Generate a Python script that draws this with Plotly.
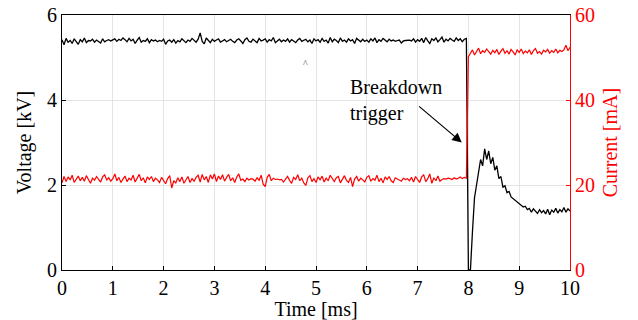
import numpy as np
import plotly.graph_objects as go

time_ms = np.round(np.arange(251) * 0.04, 2)

voltage_kv = [
    5.42,5.30,5.45,5.36,5.40,5.33,5.44,5.38,5.31,5.42,5.37,5.46,5.35,5.40,5.39,5.43,5.36,5.41,5.38,5.34,5.44,5.37,5.40,5.42,5.39,
    5.41,5.44,5.38,5.43,5.40,5.46,5.42,5.37,5.45,5.39,5.43,5.33,5.41,5.47,5.36,5.40,5.38,5.44,5.35,5.42,5.39,5.41,5.37,5.40,5.38,
    5.43,5.31,5.39,5.41,5.36,5.42,5.34,5.40,5.37,5.44,5.39,5.35,5.41,5.38,5.45,5.40,5.36,5.43,5.58,5.38,5.32,5.46,5.40,5.35,5.43,
    5.38,5.41,5.44,5.36,5.39,5.42,5.37,5.40,5.43,5.38,5.35,5.41,5.44,5.39,5.33,5.42,5.46,5.38,5.36,5.43,5.40,5.35,5.45,5.39,5.41,
    5.44,5.36,5.42,5.39,5.47,5.35,5.40,5.43,5.37,5.41,5.38,5.44,5.36,5.42,5.39,5.35,5.41,5.45,5.38,5.40,5.43,5.37,5.41,5.33,5.44,
    5.39,5.42,5.36,5.45,5.38,5.41,5.34,5.47,5.37,5.43,5.40,5.35,5.46,5.38,5.41,5.36,5.44,5.39,5.42,5.33,5.45,5.40,5.37,5.43,5.38,
    5.41,5.36,5.44,5.39,5.46,5.35,5.42,5.38,5.45,5.40,5.37,5.43,5.39,5.41,5.38,5.40,5.41,5.34,5.39,5.40,5.40,5.41,5.39,5.44,5.36,
    5.42,5.38,5.45,5.35,5.47,5.39,5.33,5.44,5.40,5.46,5.37,5.42,5.48,5.36,5.43,5.39,5.45,5.41,5.38,5.46,5.40,5.44,5.37,5.43,5.45,
    0.00,0.00,0.90,1.70,2.00,2.35,2.60,2.45,2.85,2.60,
    2.80,2.50,2.65,2.35,2.45,2.15,2.20,1.95,1.98,1.82,
    1.85,1.72,1.68,1.62,1.60,1.55,1.52,1.48,1.50,1.42,
    1.45,1.36,1.44,1.38,1.33,1.42,1.35,1.40,1.32,1.43,
    1.30,1.41,1.36,1.45,1.34,1.42,1.37,1.47,1.36,1.44,1.39,
]

current_ma = [
    20.5,22.0,20.8,21.9,21.2,22.3,20.6,21.5,22.1,21.0,21.8,20.9,22.2,21.3,20.4,21.6,21.1,22.0,21.4,20.7,21.9,22.4,21.2,21.7,20.9,
    21.5,22.6,21.0,21.8,20.6,21.4,22.1,20.8,21.6,21.2,22.3,20.7,21.5,22.5,21.0,21.7,20.5,21.9,21.3,22.0,20.8,21.6,21.2,20.6,21.8,
    21.1,20.3,21.5,22.2,19.3,21.0,20.5,21.7,20.8,21.9,20.4,21.3,22.0,20.6,21.5,20.9,21.8,22.3,20.7,22.5,21.2,22.0,20.6,22.4,21.4,
    22.6,20.8,22.1,21.3,22.4,20.9,21.8,22.5,21.0,21.7,20.6,21.9,22.6,21.1,21.4,20.8,21.6,21.2,21.5,21.4,20.9,21.7,21.1,22.3,20.2,
    19.6,21.8,22.5,21.0,21.6,21.3,21.4,21.2,21.3,20.7,21.5,22.0,21.1,20.4,21.8,21.3,22.4,21.0,21.6,20.5,19.9,21.7,22.2,20.8,21.5,
    20.6,21.9,21.2,22.1,20.7,21.6,21.0,22.3,21.4,20.8,21.7,22.0,20.5,21.5,22.2,21.1,20.6,21.8,19.6,21.4,22.0,20.9,21.6,21.2,20.7,
    21.8,22.2,20.9,21.5,21.1,22.3,20.8,21.6,20.5,21.9,21.3,22.0,21.0,20.6,21.7,21.4,21.2,20.9,21.6,21.3,21.5,21.0,21.8,20.7,22.0,
    21.2,20.6,21.9,22.4,20.8,21.5,22.6,20.4,21.7,21.0,22.1,20.9,21.3,21.5,21.4,21.6,21.5,21.3,21.7,21.4,21.6,21.9,21.5,21.8,21.6,
    50.2,51.0,51.8,50.6,51.5,52.2,50.9,51.6,51.2,52.0,
    51.4,50.8,51.7,51.1,51.9,50.7,51.5,52.1,51.0,51.6,
    50.8,51.9,51.3,50.6,51.8,51.2,52.0,50.9,51.5,51.1,
    51.8,50.7,51.6,52.1,51.0,51.4,50.8,51.7,51.3,51.9,
    51.0,51.6,51.2,52.0,51.1,51.7,51.4,51.8,52.9,51.6,52.4,
]

x_ticks = list(range(0, 11))
v_ticks = [0, 2, 4, 6]
i_ticks = [0, 20, 40, 60]

FONT = "Liberation Serif"
FS = 20
TICKFONT = dict(family=FONT, size=FS, color="black")

fig = go.Figure()
fig.add_trace(go.Scatter(x=time_ms, y=voltage_kv, mode="lines",
                         line=dict(color="black", width=1.3), yaxis="y", showlegend=False))
fig.add_trace(go.Scatter(x=time_ms, y=current_ma, mode="lines",
                         line=dict(color="#ff0000", width=1.2), yaxis="y2", showlegend=False))

fig.update_layout(
    width=638, height=320,
    margin=dict(l=62, r=68, t=15, b=50),
    paper_bgcolor="white", plot_bgcolor="white",
    font=dict(family=FONT, size=FS, color="black"),
    xaxis=dict(range=[0, 10], tickvals=x_ticks, showgrid=True, gridcolor="#e4e4e4", gridwidth=1,
               showline=True, linecolor="black", linewidth=1, mirror=True,
               ticks="inside", ticklen=4, tickcolor="black", zeroline=False, automargin=False,
               ticklabeloverflow="allow",
               title=dict(text="Time [ms]", standoff=4, font=dict(family=FONT, size=FS)),
               tickfont=TICKFONT),
    yaxis=dict(range=[0, 6], tickvals=v_ticks, showgrid=True, gridcolor="#e4e4e4", gridwidth=1,
               showline=True, linecolor="black", linewidth=1,
               ticks="inside", ticklen=4, tickcolor="black", zeroline=False, automargin=False,
               ticklabeloverflow="allow",
               title=dict(text="Voltage [kV]", standoff=10, font=dict(family=FONT, size=FS)),
               tickfont=TICKFONT),
    yaxis2=dict(range=[0, 60], tickvals=i_ticks, overlaying="y", side="right", showgrid=False,
                showline=True, linecolor="#ff0000", linewidth=1,
                ticks="inside", ticklen=4, tickcolor="#ff0000", zeroline=False, automargin=False,
                ticklabeloverflow="allow",
                tickfont=dict(family=FONT, size=FS, color="#ff0000"),
                title=dict(text="Current [mA]", font=dict(family=FONT, color="#ff0000", size=FS), standoff=8)),
    annotations=[
        dict(x=5.63, y=4.0, xref="x", yref="y", text="Breakdown<br>trigger", showarrow=False,
             xanchor="left", yanchor="middle", align="left", font=dict(family=FONT, size=FS)),
        dict(x=7.87, y=3.0, ax=7.0, ay=3.88, xref="x", yref="y", axref="x", ayref="y",
             text="", showarrow=True, arrowhead=2, arrowsize=1.6, arrowwidth=1.2, arrowcolor="black"),
        dict(x=4.8, y=4.85, xref="x", yref="y", text="^", showarrow=False,
             font=dict(family=FONT, size=10, color="#555")),
    ],
)

fig.write_html("out.html", config={"displayModeBar": False},
               post_script="document.body.style.margin='0';")
